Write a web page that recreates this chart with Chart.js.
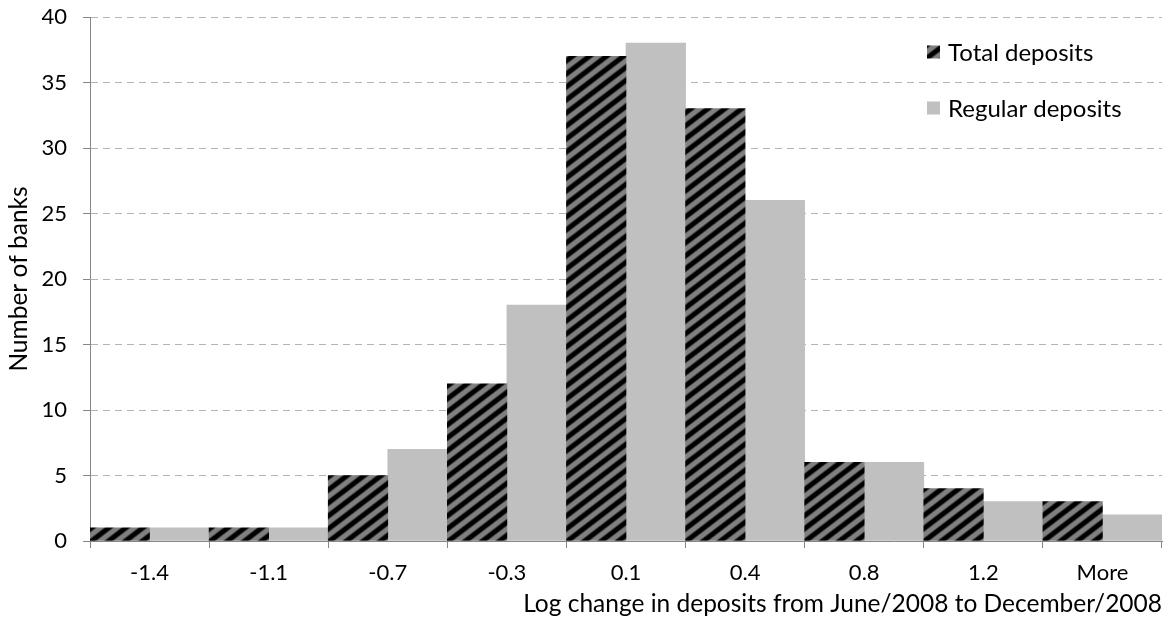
<!DOCTYPE html>
<html>
<head>
<meta charset="utf-8">
<script src="https://cdn.jsdelivr.net/npm/chart.js@4/dist/chart.umd.min.js"></script>
<style>
  html, body { margin: 0; padding: 0; background: #ffffff; }
  canvas { display: block; }
</style>
</head>
<body>
<canvas id="chart" width="1170" height="623"></canvas>
<script>
// Histogram bins (upper bound of each log-change bin)
const categories = ['-1.4', '-1.1', '-0.7', '-0.3', '0.1', '0.4', '0.8', '1.2', 'More'];
// Number of banks per bin
const totalDeposits   = [1, 1, 5, 12, 37, 33, 6, 4, 3];
const regularDeposits = [1, 1, 7, 18, 38, 26, 6, 3, 2];
const seriesNames = ['Total deposits', 'Regular deposits'];
const yMin = 0, yMax = 40, yStep = 5;
const xTitle = 'Log change in deposits from June/2008 to December/2008';
const yTitle = 'Number of banks';

const FONT = 'Lato';
const TICK_SIZE = 22;
const TITLE_SIZE = 24.5;
const LEGEND_SIZE = 24;
const AXIS_GREY = '#868686';
const GRID_GREY = '#b4b4b4';
const PLAIN_GREY = '#c0c0c0';

Chart.defaults.font.family = FONT;
Chart.defaults.font.size = TICK_SIZE;
Chart.defaults.color = '#000000';

const canvas = document.getElementById('chart');
const ctx = canvas.getContext('2d');

// Grey fill with soft black diagonal stripes (rising to the right)
function stripePattern(c) {
  const w = 17, h = 13;
  const tile = document.createElement('canvas');
  tile.width = w; tile.height = h;
  const t = tile.getContext('2d');
  const img = t.createImageData(w, h);
  const period = w * h / Math.sqrt(w * w + h * h);
  for (let y = 0; y < h; y++) {
    for (let x = 0; x < w; x++) {
      const f = ((x + 0.5) / w + (y + 0.5) / h) % 1;
      const d = Math.min(f, 1 - f) * period;
      let v;
      if (d < 1.6) v = 0;
      else if (d < 3.5) v = 128 * (d - 1.6) / 1.9;
      else v = 128;
      const i = (y * w + x) * 4;
      img.data[i] = img.data[i + 1] = img.data[i + 2] = Math.round(v);
      img.data[i + 3] = 255;
    }
  }
  t.putImageData(img, 0, 0);
  return c.createPattern(tile, 'repeat');
}

const hatch = stripePattern(ctx);

// Legend drawn inside the plot area, top right, stacked vertically
const innerLegend = {
  id: 'innerLegend',
  afterDatasetsDraw(chart) {
    const { ctx, chartArea } = chart;
    const boxX = chartArea.right - 235;
    const rows = [chartArea.top + 35, chartArea.top + 91];
    ctx.save();
    ctx.font = `${LEGEND_SIZE}px ${FONT}`;
    ctx.textBaseline = 'middle';
    ctx.textAlign = 'left';
    chart.data.datasets.forEach((ds, i) => {
      const cy = rows[i];
      ctx.fillStyle = ds.backgroundColor;
      ctx.fillRect(boxX, cy - 6.5, 13, 13);
      ctx.fillStyle = '#000000';
      ctx.fillText(ds.label, boxX + 21, cy + 1);
    });
    ctx.restore();
  }
};

new Chart(ctx, {
  type: 'bar',
  data: {
    labels: categories,
    datasets: [
      { label: seriesNames[0], data: totalDeposits, backgroundColor: hatch, borderWidth: 0 },
      { label: seriesNames[1], data: regularDeposits, backgroundColor: PLAIN_GREY, borderWidth: 0 }
    ]
  },
  options: {
    responsive: false,
    animation: false,
    devicePixelRatio: 1,
    layout: { padding: { top: 0, right: 8, left: 0, bottom: 0 } },
    datasets: { bar: { categoryPercentage: 1.0, barPercentage: 1.0 } },
    plugins: {
      legend: { display: false },
      tooltip: { enabled: false }
    },
    scales: {
      x: {
        afterFit(scale) { scale.height = 82; },
        grid: {
          display: true,
          drawOnChartArea: false,
          offset: true,
          color: AXIS_GREY,
          tickColor: AXIS_GREY,
          tickLength: 7
        },
        border: { color: AXIS_GREY, width: 1 },
        ticks: { padding: 12, maxRotation: 0, autoSkip: false },
        title: {
          display: true,
          text: xTitle,
          align: 'end',
          font: { size: TITLE_SIZE },
          padding: { top: 0, bottom: 4 }
        }
      },
      y: {
        min: yMin,
        max: yMax,
        afterFit(scale) {
          scale.width = 90;
          scale.paddingTop = 17;
        },
        grid: {
          color: (c) => (c.tick && c.tick.value === 0 ? 'rgba(0,0,0,0)' : GRID_GREY),
          tickColor: AXIS_GREY,
          tickLength: 7
        },
        border: { color: AXIS_GREY, width: 1, dash: [7, 5] },
        ticks: { stepSize: yStep, padding: 16 },
        title: {
          display: true,
          text: yTitle,
          font: { size: TITLE_SIZE },
          padding: { top: 4, bottom: 0 }
        }
      }
    }
  },
  plugins: [innerLegend]
});
</script>
</body>
</html>
